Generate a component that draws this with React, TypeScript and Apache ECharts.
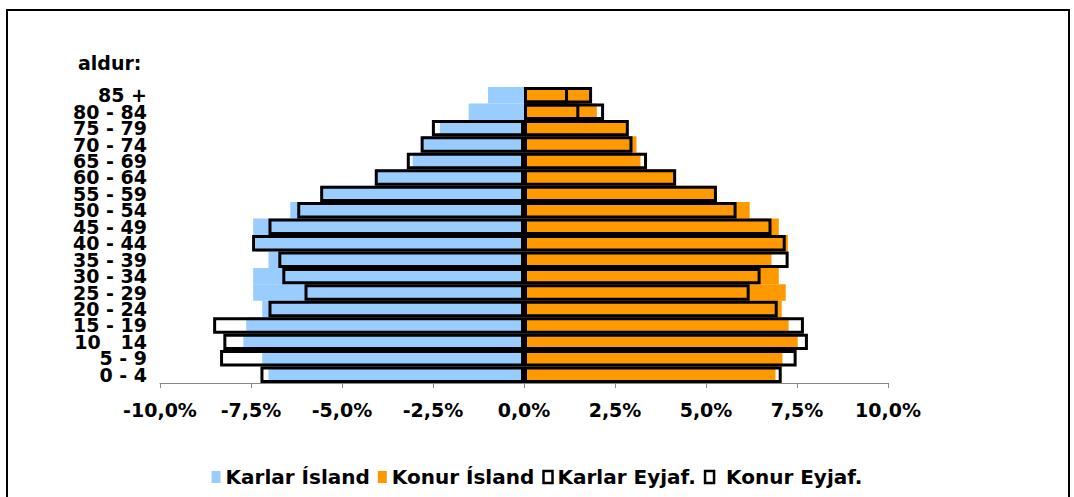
import React, { useEffect, useRef } from "react";
import * as echarts from "echarts";

const categories = ["0 - 4", "5 - 9", "10   14", "15 - 19", "20 - 24", "25 - 29", "30 - 34", "35 - 39", "40 - 44", "45 - 49", "50 - 54", "55 - 59", "60 - 64", "65 - 69", "70 - 74", "75 - 79", "80 - 84", "85 +"];
const karlarIsland = [-7.02, -7.19, -7.71, -7.63, -7.19, -7.44, -7.44, -7.02, -7.38, -7.44, -6.42, -5.56, -4.05, -3.06, -2.8, -2.31, -1.52, -0.99];
const konurIsland = [6.91, 7.1, 7.52, 7.27, 7.08, 7.19, 7.0, 6.8, 7.25, 7.0, 6.2, 5.29, 4.15, 3.2, 3.09, 2.83, 2.0, 1.79];
const karlarEyjaf = [-7.24, -8.35, -8.26, -8.54, -7.02, -6.03, -6.64, -6.75, -7.47, -7.02, -6.23, -5.6, -4.1, -3.22, -2.84, -2.53, 1.52, 1.21];
const konurEyjaf = [7.08, 7.49, 7.8, 7.69, 6.97, 6.2, 6.5, 7.27, 7.19, 6.8, 5.84, 5.3, 4.18, 3.38, 2.98, 2.88, 2.2, 1.87];
const seriesNames = ["Karlar Ísland", "Konur Ísland", "Karlar Eyjaf.", " Konur Eyjaf."];

const FONT = "'DejaVu Sans', Verdana, sans-serif";

export default function App() {
  const ref = useRef<HTMLDivElement>(null);
  useEffect(() => {
    if (!ref.current) return;
    const chart = echarts.init(ref.current, undefined, { renderer: "svg" });
    const barCommon = {
      type: "bar",
      barGap: "-100%",
      barCategoryGap: "0%",
    };
    const outline = {
      color: "rgba(0,0,0,0)",
      borderColor: "#000",
      borderWidth: 3,
    };
    chart.setOption({
      animation: false,
      backgroundColor: "#fff",
      textStyle: { fontFamily: FONT },
      grid: { left: 160, right: 186, top: 87, bottom: 114, containLabel: false },
      xAxis: {
        type: "value",
        min: -10,
        max: 10,
        interval: 2.5,
        axisLine: { show: true, lineStyle: { color: "#888", width: 1 } },
        axisTick: { show: true, length: 5, lineStyle: { color: "#888" } },
        splitLine: { show: false },
        axisLabel: {
          margin: 17,
          fontFamily: FONT,
          fontWeight: "bold",
          fontSize: 19,
          color: "#000",
          formatter: (v: number) => v.toFixed(1).replace(".", ",") + "%",
        },
      },
      yAxis: {
        type: "category",
        data: categories,
        axisLine: { show: false },
        axisTick: { show: false },
        axisLabel: {
          interval: 0,
          margin: 13,
          fontFamily: FONT,
          fontWeight: "bold",
          fontSize: 19,
          lineHeight: 16,
          color: "#000",
        },
      },
      legend: {
        top: 462,
        left: "center",
        itemWidth: 9,
        itemHeight: 12,
        itemGap: 8,
        icon: "rect",
        textStyle: { fontFamily: FONT, fontWeight: "bold", fontSize: 20, color: "#000" },
        data: [
          { name: seriesNames[0] },
          { name: seriesNames[1] },
          { name: seriesNames[2], itemStyle: { color: "#fff", borderColor: "#000", borderWidth: 2.5 } },
          { name: seriesNames[3], itemStyle: { color: "#fff", borderColor: "#000", borderWidth: 2.5 } },
        ],
      },
      graphic: [
        {
          type: "rect",
          shape: { x: 7, y: 10, width: 1062, height: 600 },
          style: { fill: "none", stroke: "#000", lineWidth: 2 },
          silent: true,
        },
        {
          type: "text",
          left: 78,
          top: 53,
          style: { text: "aldur:", fontFamily: FONT, fontWeight: "bold", fontSize: 19, fill: "#000" },
        },
      ],
      series: [
        { ...barCommon, name: seriesNames[0], data: karlarIsland, itemStyle: { color: "#99CCFF" } },
        { ...barCommon, name: seriesNames[1], data: konurIsland, itemStyle: { color: "#FF9900" } },
        { ...barCommon, name: seriesNames[2], data: karlarEyjaf, itemStyle: outline, z: 3 },
        { ...barCommon, name: seriesNames[3], data: konurEyjaf, itemStyle: outline, z: 3 },
      ],
    });
    return () => chart.dispose();
  }, []);
  return (
    <div
      ref={ref}
      style={{ position: "fixed", left: 0, top: 0, width: 1074, height: 497 }}
    />
  );
}
